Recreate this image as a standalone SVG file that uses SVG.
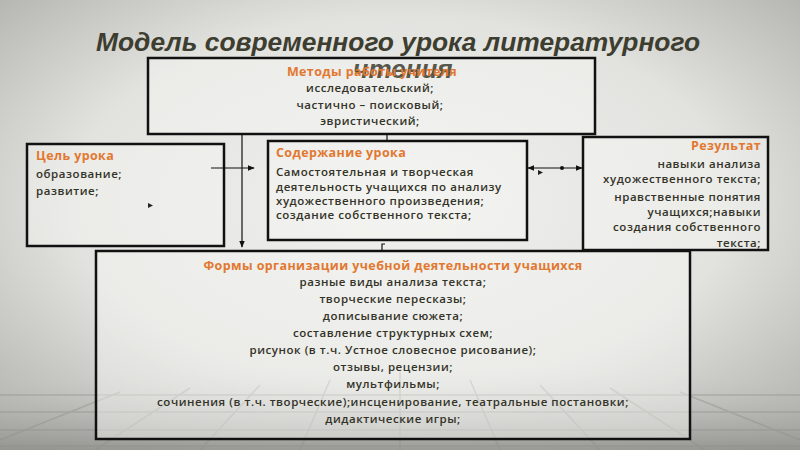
<svg xmlns="http://www.w3.org/2000/svg" width="800" height="450" viewBox="0 0 800 450">
<defs>
<radialGradient id="bg" cx="0.5" cy="0.45" r="0.75">
<stop offset="0" stop-color="#f1f1ef"/>
<stop offset="0.55" stop-color="#e2e2df"/>
<stop offset="1" stop-color="#a9a9a5"/>
</radialGradient>
<linearGradient id="floor" x1="0" y1="0" x2="0" y2="1">
<stop offset="0" stop-color="#cfcfcb" stop-opacity="0"/>
<stop offset="1" stop-color="#8e8e8a" stop-opacity="0.8"/>
</linearGradient>
<marker id="arr" viewBox="0 0 10 10" refX="9" refY="5" markerWidth="7" markerHeight="7" orient="auto-start-reverse" markerUnits="userSpaceOnUse">
<path d="M0,1 L10,5 L0,9 Z" fill="#111"/>
</marker>
<style>
.box{fill:#f7f7f5;fill-opacity:0.45;stroke:#111;stroke-width:2.5}
.h{font-family:"Open Sans","Liberation Sans",sans-serif;font-weight:700;fill:#e2782f;font-size:12.5px;letter-spacing:0.4px}
.t{font-family:"Open Sans","Liberation Sans",sans-serif;font-weight:600;fill:#333328;font-size:11.5px;letter-spacing:0.55px}
.c{text-anchor:middle}
.r{text-anchor:end}
.ln{stroke:#111;stroke-width:1.2;fill:none}
.pv{stroke:#8f8f8b;stroke-width:1.5;fill:none;opacity:0.45}
</style>
</defs>
<rect width="800" height="450" fill="url(#bg)"/>
<rect x="0" y="370" width="800" height="80" fill="url(#floor)"/>
<g class="pv">
<path d="M0,395 H800 M0,412 H800 M0,430 H800 M0,446 H800"/>
<path d="M400,372 L400,450 M330,380 L300,450 M470,380 L500,450 M260,385 L200,450 M540,385 L600,450 M190,388 L95,450 M610,388 L705,450 M120,392 L0,440 M680,392 L800,440"/>
</g>
<text x="398" y="51" font-family="Liberation Sans, Arial, sans-serif" font-size="26" font-weight="700" font-style="italic" fill="#3d3d30" text-anchor="middle" textLength="604" lengthAdjust="spacingAndGlyphs">Модель современного урока литературного</text>
<g id="methods">
<rect class="box" x="148" y="58" width="447" height="76"/>
<text x="403" y="78" font-family="Liberation Sans, Arial, sans-serif" font-size="26" font-weight="700" font-style="italic" fill="#3d3d30" text-anchor="middle" opacity="0.85">чтения</text>
<text class="h c" x="372" y="76">Методы работы учителя</text>
<text class="t c" x="370" y="92">исследовательский;</text>
<text class="t c" x="370" y="109">частично – поисковый;</text>
<text class="t c" x="370" y="125">эвристический;</text>
</g>
<g id="goal">
<rect class="box" x="27" y="144" width="197" height="102"/>
<text class="h" x="36" y="160">Цель урока</text>
<text class="t" x="36" y="178">образование;</text>
<text class="t" x="36" y="195">развитие;</text>
</g>
<g id="content">
<rect class="box" x="268" y="141" width="259" height="99"/>
<text class="h" x="276" y="157">Содержание урока</text>
<text class="t" x="276" y="176">Самостоятельная и творческая</text>
<text class="t" x="276" y="191">деятельность учащихся по анализу</text>
<text class="t" x="276" y="205">художественного произведения;</text>
<text class="t" x="276" y="219">создание собственного текста;</text>
</g>
<g id="result">
<rect class="box" x="583" y="137" width="185" height="113"/>
<text class="h r" x="761" y="150">Результат</text>
<text class="t r" x="761" y="168">навыки анализа</text>
<text class="t r" x="761" y="183">художественного текста;</text>
<text class="t r" x="761" y="201">нравственные понятия</text>
<text class="t r" x="761" y="216">учащихся;навыки</text>
<text class="t r" x="761" y="231">создания собственного</text>
<text class="t r" x="761" y="247">текста;</text>
</g>
<g id="forms">
<rect class="box" x="96" y="251" width="594" height="188"/>
<text class="h c" x="393" y="270">Формы организации учебной деятельности учащихся</text>
<text class="t c" x="393" y="286">разные виды анализа текста;</text>
<text class="t c" x="393" y="303">творческие пересказы;</text>
<text class="t c" x="393" y="320">дописывание сюжета;</text>
<text class="t c" x="393" y="337">составление структурных схем;</text>
<text class="t c" x="393" y="354">рисунок (в т.ч. Устное словесное рисование);</text>
<text class="t c" x="393" y="371">отзывы, рецензии;</text>
<text class="t c" x="393" y="388">мультфильмы;</text>
<text class="t c" x="393" y="406">сочинения (в т.ч. творческие);инсценирование, театральные постановки;</text>
<text class="t c" x="393" y="423">дидактические игры;</text>
</g>
<g id="connectors">
<line class="ln" x1="242" y1="134" x2="242" y2="247" marker-end="url(#arr)"/>
<line class="ln" x1="387" y1="134" x2="387" y2="141"/>
<line class="ln" x1="211" y1="168" x2="254" y2="168" marker-end="url(#arr)"/>
<line class="ln" x1="528" y1="168" x2="582" y2="168" marker-start="url(#arr)" marker-end="url(#arr)"/>
<circle cx="562" cy="168" r="2" fill="#111"/>
<path d="M538,170 L543,172.5 L538,175 Z" fill="#222"/>
<path d="M148,203 L153,205.5 L148,208 Z" fill="#222"/>
<path class="ln" d="M382,251 V244 H385"/>
</g>
</svg>
